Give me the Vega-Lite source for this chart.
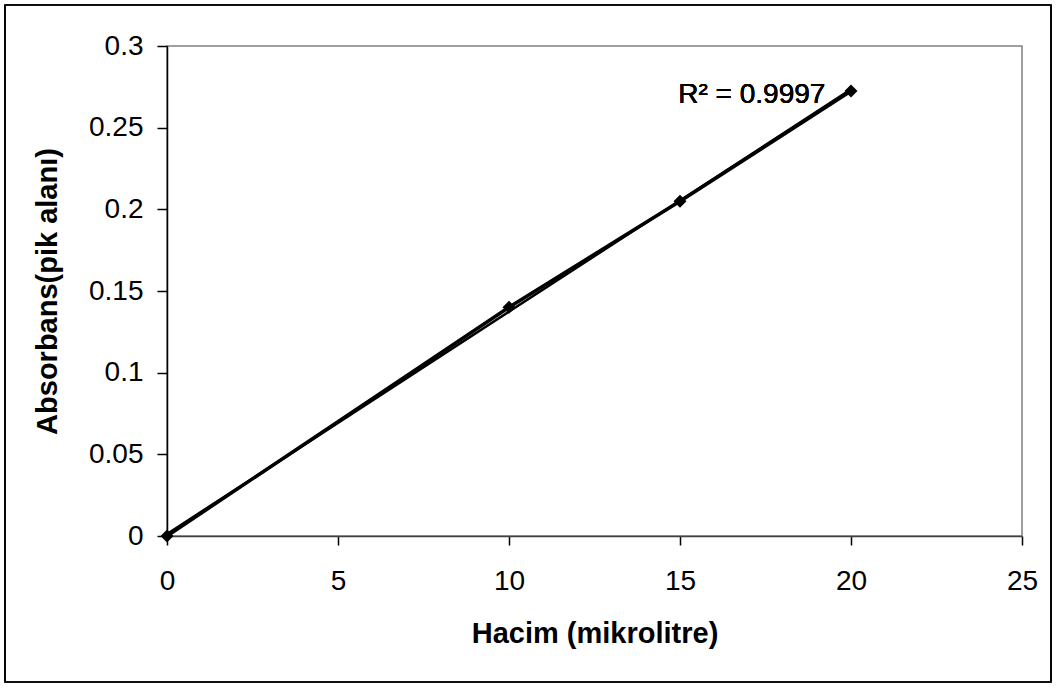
{
  "$schema": "https://vega.github.io/schema/vega-lite/v6.json",
  "width": 855,
  "height": 490,
  "autosize": {"type": "none"},
  "padding": {"left": 167, "top": 46, "right": 35, "bottom": 152},
  "background": "white",
  "config": {
    "font": "Liberation Sans",
    "view": {"stroke": "#808080", "strokeWidth": 1.5},
    "axis": {
      "grid": false,
      "labelFont": "Liberation Sans",
      "labelFontSize": 28,
      "labelColor": "black",
      "labelFlush": false,
      "labelOverlap": false,
      "titleFont": "Liberation Sans",
      "titleFontSize": 29,
      "titleFontWeight": "bold",
      "titleColor": "black",
      "domainColor": "black",
      "domainWidth": 1.5,
      "tickColor": "black",
      "tickWidth": 1.5
    }
  },
  "data": {
    "values": [
      {"x": 0, "y": 0},
      {"x": 10, "y": 0.14},
      {"x": 15, "y": 0.205},
      {"x": 20, "y": 0.2724}
    ]
  },
  "layer": [
    {
      "mark": {"type": "line", "color": "black", "strokeWidth": 3.5, "clip": false},
      "encoding": {
        "x": {
          "field": "x",
          "type": "quantitative",
          "scale": {"domain": [0, 25], "nice": false, "zero": false},
          "axis": {
            "title": "Hacim (mikrolitre)",
            "values": [0, 5, 10, 15, 20, 25],
            "format": "~g",
            "tickSize": 9,
            "labelPadding": 22,
            "titlePadding": 24,
            "domainColor": "#404040"
          }
        },
        "y": {
          "field": "y",
          "type": "quantitative",
          "scale": {"domain": [0, 0.3], "nice": false, "zero": false},
          "axis": {
            "title": "Absorbans(pik alanı)",
            "values": [0, 0.05, 0.1, 0.15, 0.2, 0.25, 0.3],
            "format": "~g",
            "tickSize": 10,
            "labelPadding": 14,
            "titlePadding": 26
          }
        }
      }
    },
    {
      "transform": [{"regression": "y", "on": "x", "method": "linear"}],
      "mark": {"type": "line", "color": "black", "strokeWidth": 2.5, "clip": false},
      "encoding": {
        "x": {"field": "x", "type": "quantitative"},
        "y": {"field": "y", "type": "quantitative"}
      }
    },
    {
      "mark": {"type": "point", "shape": "diamond", "filled": true, "color": "black", "size": 170, "opacity": 1, "clip": false},
      "encoding": {
        "x": {"field": "x", "type": "quantitative"},
        "y": {"field": "y", "type": "quantitative"}
      }
    },
    {
      "mark": {"type": "text", "text": "R² = 0.9997", "fontSize": 28, "font": "Liberation Sans", "color": "black", "align": "center", "baseline": "alphabetic"},
      "encoding": {
        "x": {"datum": 17.1},
        "y": {"datum": 0.2651}
      }
    },
    {
      "mark": {"type": "rect", "fill": null, "fillOpacity": 0, "stroke": "black", "strokeWidth": 1.2, "clip": false},
      "encoding": {
        "x": {"datum": -4.737},
        "x2": {"datum": 25.848},
        "y": {"datum": 0.3251},
        "y2": {"datum": -0.0894}
      }
    }
  ]
}
